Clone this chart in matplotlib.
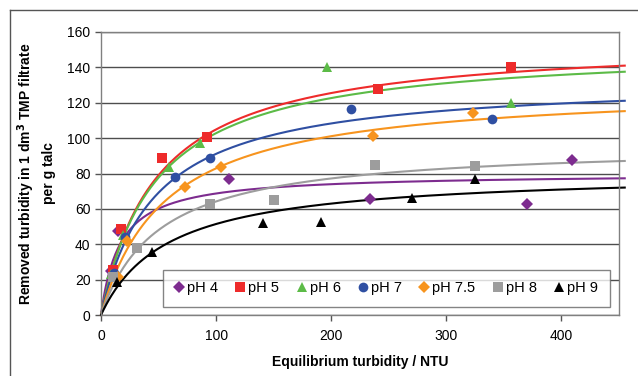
import numpy as np
from matplotlib import pyplot as plt
from matplotlib.lines import Line2D

plt.rcParams['font.family'] = ['Liberation Sans', 'DejaVu Sans']

# =============================================================================
# Measured adsorption data: equilibrium turbidity (NTU) vs removed turbidity
# =============================================================================

labels = ['pH 4', 'pH 5', 'pH 6', 'pH 7', 'pH 7.5', 'pH 8', 'pH 9']

x_ph4 = [9, 15, 111, 234, 370, 409]
y_ph4 = [25, 47.5, 76.7, 65.4, 62.9, 87.6]

x_ph5 = [10, 17, 53, 92, 241, 356]
y_ph5 = [25.5, 48.5, 88.7, 100.8, 127.8, 140]

x_ph6 = [9, 19, 59, 86, 196, 356]
y_ph6 = [23, 45, 83.8, 97, 140, 120]

x_ph7 = [11, 21, 64, 95, 217, 340]
y_ph7 = [24, 44, 77.8, 88.9, 116.4, 110.6]

x_ph75 = [15, 23, 73, 104, 236, 323]
y_ph75 = [21.7, 41.8, 72.5, 83.8, 101.2, 114.2]

x_ph8 = [10, 31, 95, 150, 238, 325]
y_ph8 = [21.7, 37.7, 62.6, 65, 85, 84.4]

x_ph9 = [14, 44, 141, 191, 270, 325]
y_ph9 = [18.8, 35.5, 51.8, 52.6, 66, 77.1]

# Langmuir fit parameters for each pH: q_max and K
q_max = [80.1, 156.1, 152.0, 133.5, 129.5, 96.8, 81.2]
k_lang = [0.0603, 0.0205, 0.0209, 0.0215, 0.0178, 0.0197, 0.0173]

xs = [x_ph4, x_ph5, x_ph6, x_ph7, x_ph75, x_ph8, x_ph9]
ys = [y_ph4, y_ph5, y_ph6, y_ph7, y_ph75, y_ph8, y_ph9]

colors = ['#7D2C8F', '#EE2B2B', '#5CBB47', '#2F4FA2', '#F7941E', '#9D9D9D',
          '#000000']
markers = ['D', 's', '^', 'o', 'D', 's', '^']
sizes = [6, 6.5, 7, 7, 6, 6.5, 7]


def langmuir(x, qm, k):
    """Langmuir isotherm q = qm*K*x/(1 + K*x)."""
    return qm * k * x / (1 + k * x)


fig = plt.figure(figsize=(6.38, 3.76), dpi=100)
ax = fig.add_axes([0.1583, 0.1622, 0.9702 - 0.1583, 0.9149 - 0.1622])

# outer frame of the figure
frame_col = '#555555'
fig.add_artist(Line2D([0.0150, 1.0], [0.9734, 0.9734], color=frame_col,
                      lw=1.0, transform=fig.transFigure))
fig.add_artist(Line2D([0.0150, 0.0150], [0.0, 0.9734], color=frame_col,
                      lw=1.0, transform=fig.transFigure))

# fitted curves, slightly overrunning the plot area on the right
xfit = np.linspace(0, 455, 400)
for qm, k, c in zip(q_max, k_lang, colors):
    ax.plot(xfit, langmuir(xfit, qm, k), color=c, lw=1.5, clip_on=False,
            zorder=2)

handles = []
for x, y, c, m, s, lab in zip(xs, ys, colors, markers, sizes, labels):
    h, = ax.plot(x, y, linestyle='none', marker=m, color=c, ms=s,
                 markeredgewidth=0, label=lab, zorder=3)
    handles.append(h)

ax.set_xlim(0, 450)
ax.set_ylim(0, 160)
ax.set_xticks([0, 100, 200, 300, 400])
ax.set_yticks(np.arange(0, 161, 20))
ax.yaxis.grid(True, color='#4d4d4d', lw=1.0)
ax.set_axisbelow(True)

for sp in ax.spines.values():
    sp.set_color('#808080')
    sp.set_linewidth(1.0)

ax.tick_params(axis='both', colors='#555555', labelcolor='black',
               labelsize=10, length=4, width=1, direction='out')
ax.tick_params(axis='x', pad=6)

ax.set_xlabel('Equilibrium turbidity / NTU', fontsize=10, fontweight='bold',
              labelpad=9)
ax.set_ylabel('Removed turbidity in 1 dm$^\\mathbf{3}$ TMP filtrate\n'
              'per g talc', fontsize=10, fontweight='bold', labelpad=8,
              linespacing=1.5)

leg = ax.legend(handles=handles, ncol=7, loc='lower left',
                bbox_to_anchor=(0.1197, 0.028, 0.8629, 0.156),
                mode='expand', frameon=True, fancybox=False, fontsize=10.5,
                handlelength=0.6, handletextpad=0.25, columnspacing=1.0,
                borderaxespad=0, borderpad=0.8)
leg.get_frame().set_edgecolor('#666666')
leg.get_frame().set_linewidth(1.0)

plt.savefig('out.png', dpi=100)
